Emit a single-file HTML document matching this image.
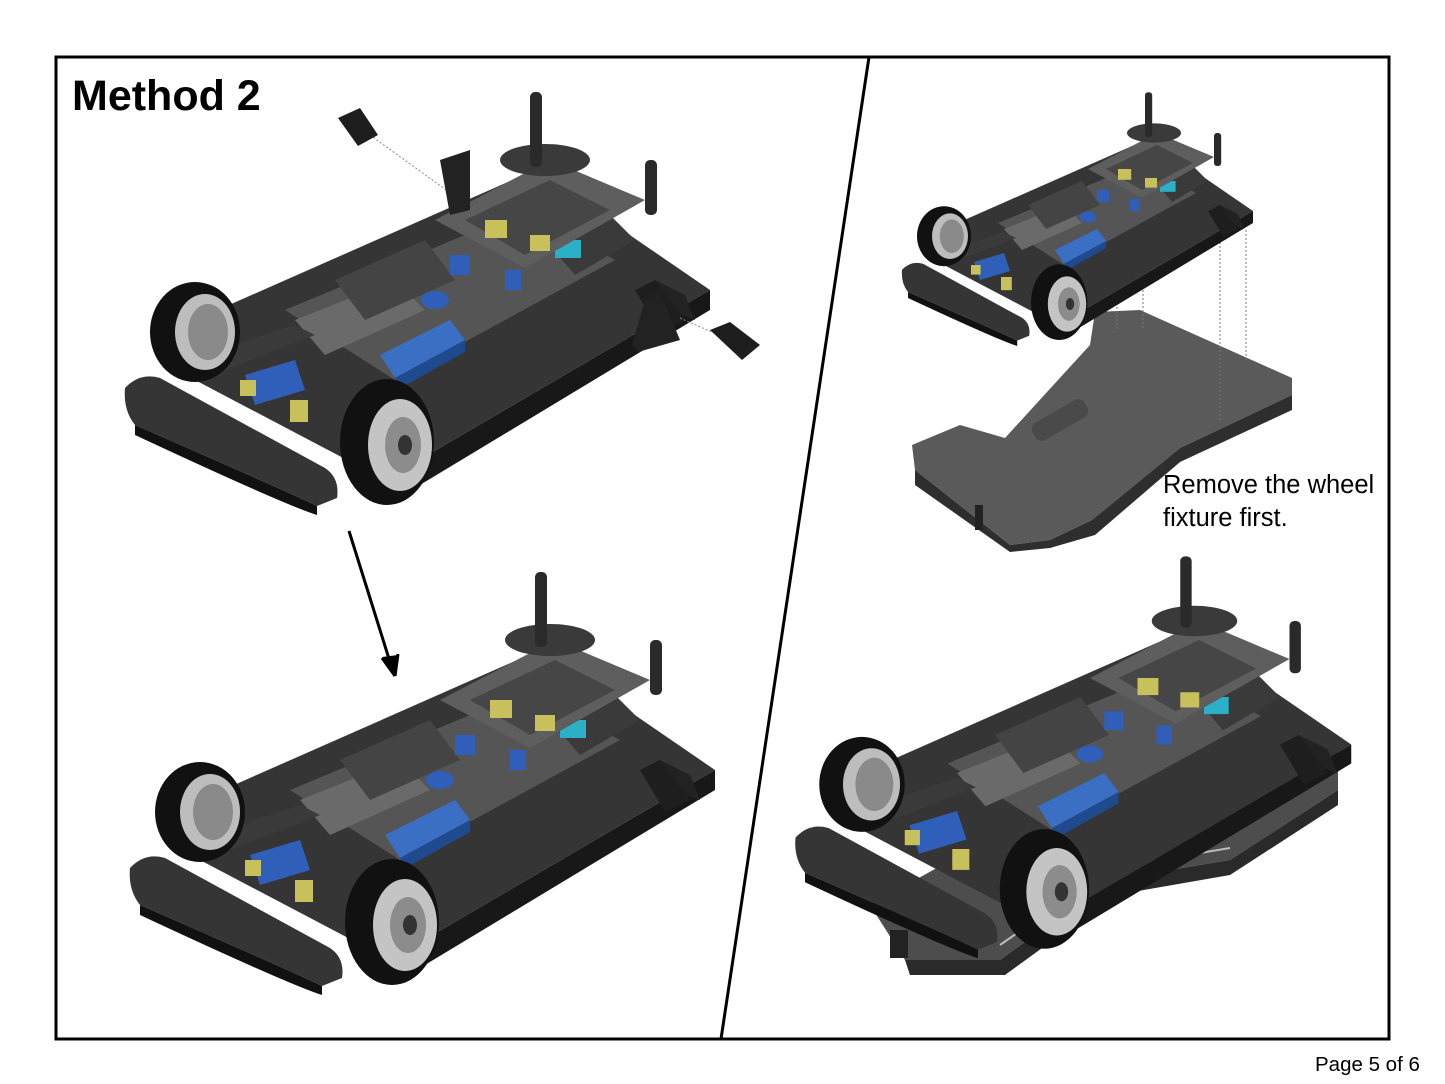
<!DOCTYPE html>
<html><head><meta charset="utf-8"><style>
html,body{margin:0;padding:0;background:#fff;}
body{width:1445px;height:1084px;position:relative;overflow:hidden;font-family:"Liberation Sans",sans-serif;}
svg{position:absolute;left:0;top:0;}
</style></head><body>
<svg width="1445" height="1084" viewBox="0 0 1445 1084">
<defs>
<g id="car">
  <polygon points="200,800 540,650 715,770 390,960 200,860" fill="#353535"/>
  <polygon points="390,960 715,770 715,790 400,980" fill="#181818"/>
  <polygon points="290,790 530,690 620,740 400,860" fill="#555"/>
  <polygon points="300,800 400,760 430,790 330,835" fill="#6a6a6a"/>
  <polygon points="340,760 430,720 460,760 370,800" fill="#444"/>
  <polygon points="385,835 455,800 470,820 400,858" fill="#3a6fc4"/>
  <polygon points="400,858 470,820 470,832 402,870" fill="#1f4a8e"/>
  <polygon points="550,720 610,690 640,720 580,755" fill="#3a3a3a"/>
  <rect x="560" y="720" width="26" height="18" fill="#2bb0c8"/>
  <polygon points="440,700 555,640 650,680 530,748" fill="#5e5e5e"/>
  <polygon points="470,700 555,660 615,690 530,735" fill="#464646"/>
  <ellipse cx="550" cy="640" rx="45" ry="16" fill="#3a3a3a"/>
  <rect x="490" y="700" width="22" height="18" fill="#c8c05a"/>
  <rect x="535" y="715" width="20" height="16" fill="#c8c05a"/>
  <rect x="455" y="735" width="20" height="20" fill="#2f5fb8"/>
  <rect x="510" y="750" width="16" height="20" fill="#2f5fb8"/>
  <ellipse cx="440" cy="780" rx="14" ry="9" fill="#2f5fb8"/>
  <rect x="535" y="572" width="12" height="75" rx="5" fill="#2a2a2a"/>
  <rect x="650" y="640" width="12" height="55" rx="5" fill="#2a2a2a"/>
  <polygon points="660,760 690,775 700,800 672,790" fill="#222"/>
  <polygon points="640,770 660,760 690,800 665,812" fill="#1e1e1e"/>
  <polygon points="210,835 300,805 320,815 230,850" fill="#3a3a3a"/>
  <polygon points="250,855 300,840 310,870 260,885" fill="#2f5fb8"/>
  <rect x="295" y="880" width="18" height="22" fill="#c8c05a"/>
  <rect x="245" y="860" width="16" height="16" fill="#c8c05a"/>
  <path d="M130,868 Q145,852 165,858 L330,948 Q345,958 342,978 L322,986 Q300,975 140,905 Q128,890 130,868 Z" fill="#353535"/>
  <path d="M140,905 Q300,975 322,986 L322,995 Q290,985 140,915 Z" fill="#111"/>
  <ellipse cx="200" cy="812" rx="45" ry="50" fill="#111"/>
  <ellipse cx="210" cy="812" rx="30" ry="38" fill="#bdbdbd"/>
  <ellipse cx="213" cy="812" rx="20" ry="28" fill="#8a8a8a"/>
  <ellipse cx="392" cy="922" rx="47" ry="63" fill="#111"/>
  <ellipse cx="405" cy="925" rx="32" ry="46" fill="#c4c4c4"/>
  <ellipse cx="408" cy="925" rx="18" ry="28" fill="#8c8c8c"/>
  <ellipse cx="410" cy="925" rx="7" ry="10" fill="#333"/>
</g>
</defs>

<rect x="56" y="57" width="1333" height="982" fill="none" stroke="#000" stroke-width="3"/>
<line x1="869" y1="57" x2="721" y2="1039" stroke="#000" stroke-width="3"/>

<use href="#car" transform="translate(-5,-480)"/>
<line x1="370" y1="135" x2="460" y2="200" stroke="#888" stroke-dasharray="2,2"/>
<polygon points="338,118 360,108 378,135 358,146" fill="#1e1e1e"/>
<polygon points="440,160 470,150 470,210 450,215" fill="#222"/>
<polygon points="645,300 660,292 680,340 638,352 632,345" fill="#222"/>
<line x1="680" y1="318" x2="730" y2="340" stroke="#888" stroke-dasharray="2,2"/>
<polygon points="710,330 730,322 760,345 742,360" fill="#1e1e1e"/>

<line x1="349" y1="531" x2="390" y2="662" stroke="#000" stroke-width="3"/>
<polygon points="382,657 398,655 395,676" fill="#000"/>
<line x1="382" y1="658" x2="395" y2="676" stroke="#000" stroke-width="3"/>
<line x1="398" y1="654" x2="395" y2="676" stroke="#000" stroke-width="3"/>

<use href="#car"/>

<polygon points="912,445 960,425 1005,438 1090,345 1095,312 1140,310 1292,378 1292,395 1180,448 1092,520 1050,540 1010,545 915,470" fill="#5a5a5a"/>
<polygon points="915,470 1010,545 1050,540 1092,520 1180,448 1292,395 1292,410 1180,462 1095,535 1050,548 1010,552 915,485" fill="#2e2e2e"/>
<rect x="1030" y="410" width="60" height="20" rx="8" fill="#4a4a4a" transform="rotate(-30 1060 420)"/>
<rect x="975" y="505" width="8" height="25" fill="#222"/>
<g stroke="#777" stroke-dasharray="2,2" stroke-width="1">
<line x1="1117" y1="255" x2="1117" y2="330"/><line x1="1143" y1="250" x2="1143" y2="330"/>
<line x1="1220" y1="230" x2="1220" y2="420"/><line x1="1246" y1="230" x2="1246" y2="360"/>
</g>
<use href="#car" transform="translate(824,-251) scale(0.6)"/>

<polygon points="870,905 1240,700 1338,742 1338,790 1230,860 1110,880 1000,960 905,960" fill="#4d4d4d"/>
<polygon points="905,960 1000,960 1110,880 1230,860 1338,790 1338,805 1230,875 1115,895 1005,975 910,975" fill="#2a2a2a"/>
<line x1="1000" y1="945" x2="1110" y2="868" stroke="#bbb" stroke-width="2"/>
<line x1="1110" y1="868" x2="1230" y2="848" stroke="#bbb" stroke-width="2"/>
<rect x="890" y="930" width="18" height="28" fill="#222"/>
<use href="#car" transform="translate(672,13) scale(0.95)"/>

<text x="72" y="110" font-family="Liberation Sans, sans-serif" font-weight="bold" font-size="43" fill="#000">Method 2</text>
<text x="1163" y="493" font-family="Liberation Sans, sans-serif" font-size="25.5" fill="#000">Remove the wheel</text>
<text x="1163" y="526" font-family="Liberation Sans, sans-serif" font-size="25.5" fill="#000">fixture first.</text>
<text x="1315" y="1071" font-family="Liberation Sans, sans-serif" font-size="20.5" fill="#000">Page 5 of 6</text>
</svg>
</body></html>
